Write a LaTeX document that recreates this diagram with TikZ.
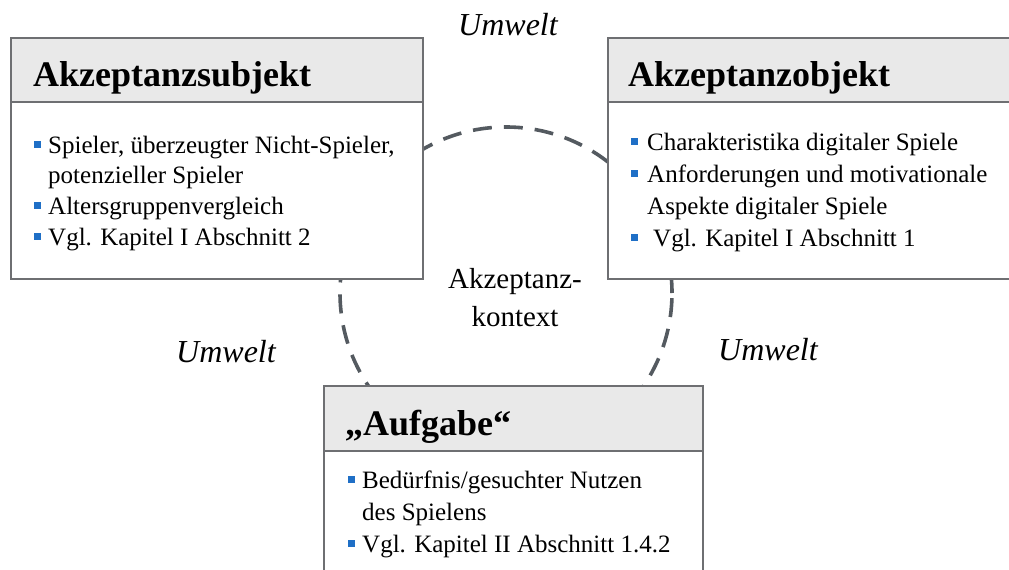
\documentclass[tikz,border=0pt]{standalone}
\usepackage{fontspec}
\setmainfont{Liberation Serif}
\definecolor{frame}{HTML}{6E6F72}
\definecolor{headfill}{HTML}{E9E9E9}
\definecolor{ring}{HTML}{545A60}
\definecolor{bulletblue}{HTML}{1F6FC6}
\begin{document}
\begin{tikzpicture}[x=1pt,y=-1pt,
  panel/.style={draw=frame, line width=1.6pt, fill=white, rectangle, inner sep=0pt, anchor=north west},
  panelhead/.style={draw=frame, line width=1.6pt, fill=headfill, rectangle, inner sep=0pt, anchor=north west},
  headtext/.style={anchor=base west, inner sep=0pt, font=\fontsize{36}{40}\selectfont\bfseries},
  item/.style={anchor=base west, inner sep=0pt, font=\fontsize{25}{31}\selectfont},
  sq/.style={fill=bulletblue, rectangle, inner sep=0pt, minimum size=7pt},
  env/.style={inner sep=0pt, font=\fontsize{32}{36}\selectfont\itshape},
  ctx/.style={inner sep=0pt, align=center, font=\fontsize{29}{38}\selectfont},
]
\useasboundingbox (0,0) rectangle (1009,570);
\clip (0,0) rectangle (1009,570);

% dashed context ring, partly hidden behind the panels
\coordinate (ctr) at (506,293);
\draw[ring, line width=3.6pt, dash pattern=on 19pt off 12pt, dash phase=4pt] (ctr) circle[radius=166pt];

% Akzeptanzsubjekt
\node[panel, minimum width=412pt, minimum height=241pt] (subj) at (10,37) {};
\node[panelhead, minimum width=412pt, minimum height=64pt] (subjH) at (10,37) {};
\node[headtext] (subjT) at (33,86) {Akzeptanzsubjekt};
\node[sq] (s1b) at (37,144) {};
\node[item] (s1) at (48,153) {Spieler, überzeugter Nicht-Spieler,};
\node[item] (s1c) at (48,183) {potenzieller Spieler};
\node[sq] (s2b) at (37,205) {};
\node[item] (s2) at (48,214) {Altersgruppenvergleich};
\node[sq] (s3b) at (37,236) {};
\node[item] (s3) at (48,245) {Vgl. Kapitel I Abschnitt 2};

% Akzeptanzobjekt
\node[panel, minimum width=410pt, minimum height=241pt] (obj) at (607,37) {};
\node[panelhead, minimum width=410pt, minimum height=64pt] (objH) at (607,37) {};
\node[headtext] (objT) at (628,86) {Akzeptanzobjekt};
\node[sq] (o1b) at (634,141) {};
\node[item] (o1) at (647,150) {Charakteristika digitaler Spiele};
\node[sq] (o2b) at (634,173) {};
\node[item] (o2) at (647,182) {Anforderungen und motivationale};
\node[item] (o2c) at (647,214) {Aspekte digitaler Spiele};
\node[sq] (o3b) at (634,237) {};
\node[item] (o3) at (653,246) {Vgl. Kapitel I Abschnitt 1};

% Aufgabe
\node[panel, minimum width=379pt, minimum height=230pt] (task) at (323,385) {};
\node[panelhead, minimum width=379pt, minimum height=65pt] (taskH) at (323,385) {};
\node[headtext] (taskT) at (345,435) {„Aufgabe“};
\node[sq] (t1b) at (351,479) {};
\node[item] (t1) at (362,488) {Bedürfnis/gesuchter Nutzen};
\node[item] (t1c) at (362,520) {des Spielens};
\node[sq] (t2b) at (351,543) {};
\node[item] (t2) at (362,552) {Vgl. Kapitel II Abschnitt 1.4.2};

% surroundings and context labels
\node[env] (envTop) at (508,25) {Umwelt};
\node[env] (envLeft) at (226,352) {Umwelt};
\node[env] (envRight) at (768,350) {Umwelt};
\node[ctx] (context) at (515,298) {Akzeptanz-\\kontext};
\end{tikzpicture}
\end{document}
